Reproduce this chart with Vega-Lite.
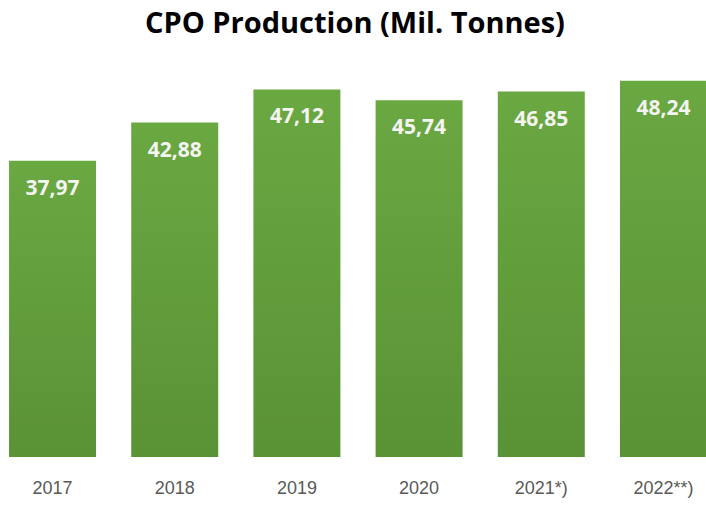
{
  "$schema": "https://vega.github.io/schema/vega-lite/v6.json",
  "width": 716,
  "height": 390,
  "autosize": {"type": "none"},
  "padding": {"left": 0, "top": 67, "right": 0, "bottom": 48},
  "background": "white",
  "title": {
    "text": "CPO Production (Mil. Tonnes)",
    "font": "Open Sans",
    "fontWeight": "bold",
    "fontSize": 29,
    "color": "#000000",
    "anchor": "middle",
    "baseline": "alphabetic",
    "offset": 5,
    "dx": -3
  },
  "data": {
    "values": [
      {"year": "2017", "value": 37.97, "label": "37,97"},
      {"year": "2018", "value": 42.88, "label": "42,88"},
      {"year": "2019", "value": 47.12, "label": "47,12"},
      {"year": "2020", "value": 45.74, "label": "45,74"},
      {"year": "2021*)", "value": 46.85, "label": "46,85"},
      {"year": "2022**)", "value": 48.24, "label": "48,24"}
    ]
  },
  "encoding": {
    "x": {
      "field": "year",
      "type": "nominal",
      "sort": null,
      "scale": {"paddingInner": 0.288, "paddingOuter": 0.074},
      "axis": {
        "title": null,
        "domain": false,
        "ticks": false,
        "labelAngle": 0,
        "labelFont": "Liberation Sans",
        "labelFontSize": 18,
        "labelColor": "#595959",
        "labelPadding": 22
      }
    },
    "y": {
      "field": "value",
      "type": "quantitative",
      "scale": {"domain": [0, 50], "nice": false, "zero": true},
      "axis": null
    }
  },
  "layer": [
    {
      "mark": {
        "type": "bar",
        "color": {
          "gradient": "linear",
          "x1": 0, "y1": 0, "x2": 0, "y2": 1,
          "stops": [
            {"offset": 0, "color": "#6aa842"},
            {"offset": 1, "color": "#5a9236"}
          ]
        }
      }
    },
    {
      "mark": {
        "type": "text",
        "font": "Open Sans",
        "fontWeight": "bold",
        "fontSize": 21,
        "color": "#f4f4f0",
        "baseline": "middle",
        "align": "center",
        "dy": 28
      },
      "encoding": {"text": {"field": "label"}}
    }
  ],
  "config": {"view": {"stroke": null}, "axis": {"grid": false}}
}
